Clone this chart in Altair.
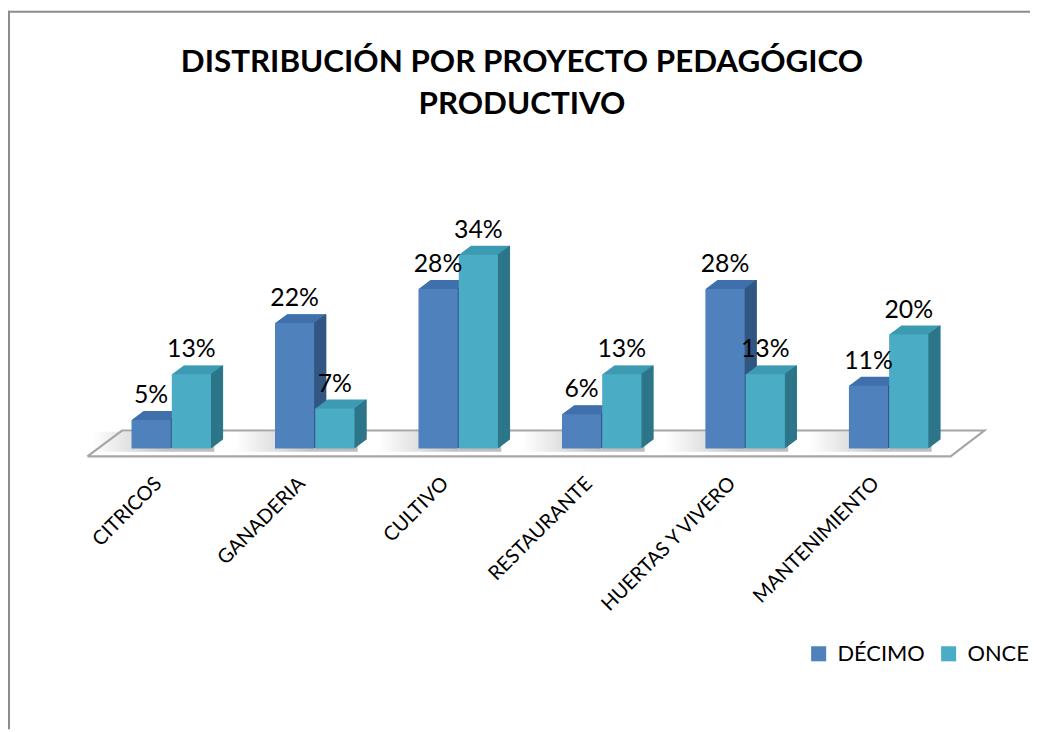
import altair as alt
import pandas as pd

# ---------------- data ----------------
categories = ["CITRICOS", "GANADERIA", "CULTIVO", "RESTAURANTE", "HUERTAS Y VIVERO", "MANTENIMIENTO"]
series = ["DÉCIMO", "ONCE"]
decimo = [5, 22, 28, 6, 28, 11]
once = [13, 7, 34, 13, 13, 20]
title_lines = ["DISTRIBUCIÓN POR PROYECTO PEDAGÓGICO", "PRODUCTIVO"]

# ---------------- style ----------------
front_colors = ["#4F81BD", "#4BACC6"]
top_colors = ["#4171AC", "#3D9AB3"]
side_colors = ["#30557F", "#2D7386"]
FONT = "Lato"

W, H = 1030, 724            # whole canvas (plot area = canvas)
PXG = 144.6                 # px per category
PXP = 5.74                  # px per percent
X0 = 164.5                  # px of first category centre
Y0 = 441                    # px of 0 %
x_dom = [-X0 / PXG, (W - X0) / PXG]
y_dom = [-(H - Y0) / PXP, Y0 / PXP]
BW = 40 / PXG               # bar width (category units)
DX_PX, DY_PX = 12, 9        # 3-D depth
N = 24
dxu = (DX_PX / N) / PXG
dyu = (DY_PX / N) / PXP

xs = alt.Scale(domain=x_dom, nice=False, zero=False)
ys = alt.Scale(domain=y_dom, nice=False, zero=False)

# ---------------- tables ----------------
vals = [decimo, once]
front_rows, ext_rows = [], []
seq = 0
for i, cat in enumerate(categories):
    for s, name in enumerate(series):
        v = vals[s][i]
        left = i - BW if s == 0 else i + 0.004
        right = left + BW - 0.004
        front_rows.append(dict(cat=cat, series=name, value=v, base=0,
                               left=left, right=right, xc=(left + right) / 2,
                               label=f"{v}%"))
        for k in range(N, 0, -1):
            ext_rows.append(dict(x=left + k * dxu, x2=right + k * dxu,
                                 y=k * dyu, y2=v + k * dyu, c=top_colors[s], seq=seq))
            seq += 1
        for k in range(1, N + 1):
            ext_rows.append(dict(x=right + (k - 1) * dxu, x2=right + k * dxu + dxu * 0.6,
                                 y=k * dyu, y2=v + k * dyu, c=side_colors[s], seq=seq))
            seq += 1
front = pd.DataFrame(front_rows)
ext = pd.DataFrame(ext_rows)
cats = pd.DataFrame({"cat": categories, "idx": list(range(len(categories)))})

last = len(categories) - 1
yf, yb = -1.39, 3.14
floor = pd.DataFrame({
    "x": [0 - 0.584, last + 0.432, last + 0.667, 0 - 0.343, 0 - 0.584],
    "y": [yf, yf, yb, yb, yf],
    "o": [0, 1, 2, 3, 4],
})
# soft shadow on the floor behind each category
shadow = pd.DataFrame({"x": [i - 0.55 for i in range(len(categories))],
                       "x2": [i + 0.30 for i in range(len(categories))],
                       "y": [-0.6] * len(categories), "y2": [2.9] * len(categories)})

# ---------------- layers ----------------
border = alt.Chart(pd.DataFrame({"a": [0]})).mark_rule(color="#8C8C8C", strokeWidth=2)
border_left = border.encode(x=alt.value(1), y=alt.value(0), y2=alt.value(H))
border_top = border.encode(x=alt.value(0), x2=alt.value(W), y=alt.value(1))

floor_line = alt.Chart(floor).mark_line(color="#A6A6A6", strokeWidth=2.2).encode(
    x=alt.X("x:Q", scale=xs, axis=None),
    y=alt.Y("y:Q", scale=ys, axis=None),
    order="o:Q",
)

shadow_band = alt.Chart(shadow).mark_bar(
    strokeWidth=0,
    color=alt.Gradient(gradient="linear", x1=0, x2=1, y1=0, y2=0,
                       stops=[alt.GradientStop(color="#FFFFFF", offset=0),
                              alt.GradientStop(color="#C4C4C4", offset=0.6),
                              alt.GradientStop(color="#BDBDBD", offset=1)]),
).encode(
    x=alt.X("x:Q", scale=xs, axis=None), x2="x2:Q",
    y=alt.Y("y:Q", scale=ys, axis=None), y2="y2:Q",
)

extrusion = alt.Chart(ext).mark_bar(strokeWidth=0).encode(
    x=alt.X("x:Q", scale=xs, axis=None),
    x2="x2:Q",
    y=alt.Y("y:Q", scale=ys, axis=None),
    y2="y2:Q",
    color=alt.Color("c:N", scale=None, legend=None),
    order="seq:Q",
)

fronts = alt.Chart(front).mark_bar(strokeWidth=0).encode(
    x=alt.X("left:Q", scale=xs, axis=None),
    x2="right:Q",
    y=alt.Y("value:Q", scale=ys, axis=None),
    y2="base:Q",
    color=alt.Color("series:N", scale=alt.Scale(domain=series, range=front_colors),
                    legend=alt.Legend(orient="none", legendX=806, legendY=637,
                                      direction="horizontal", title=None,
                                      symbolType="square", symbolSize=230,
                                      symbolStrokeWidth=0, labelFont=FONT,
                                      labelFontSize=22, labelColor="#000000",
                                      labelOffset=8, columnPadding=13, padding=0)),
)

value_labels = alt.Chart(front).mark_text(font=FONT, fontSize=25, color="#000000",
                                          baseline="alphabetic", dy=-17).encode(
    x=alt.X("xc:Q", scale=xs, axis=None),
    y=alt.Y("value:Q", scale=ys, axis=None),
    text="label:N",
)

cat_labels = alt.Chart(cats).mark_text(font=FONT, fontSize=20, color="#000000",
                                       angle=315, align="right", baseline="middle",
                                       dx=-3, dy=-15).encode(
    x=alt.X("idx:Q", scale=xs, axis=None),
    y=alt.value(482),
    text="cat:N",
)

titles = []
for j, line in enumerate(title_lines):
    titles.append(
        alt.Chart(pd.DataFrame({"t": [line]})).mark_text(
            font=FONT, fontSize=31.6, fontWeight="bold", color="#000000",
            align="center", baseline="alphabetic").encode(
            x=alt.value(518), y=alt.value(62 + 42 * j), text="t:N")
    )

chart = alt.layer(
    border_left, border_top, shadow_band, floor_line, extrusion, fronts,
    value_labels, cat_labels, *titles
).resolve_scale(color="independent").properties(
    width=W, height=H, padding=0,
    autosize=alt.AutoSizeParams(type="none"),
    background="white",
).configure_view(stroke=None)

chart.save("out.html", embed_options={"renderer": "svg", "actions": False})
